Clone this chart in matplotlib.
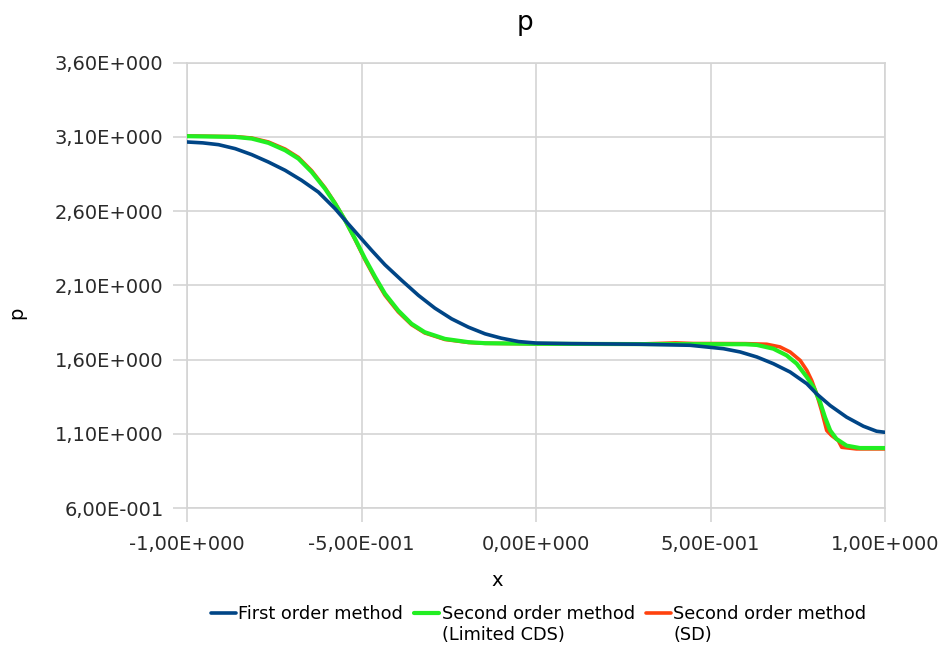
import numpy as np
import matplotlib
matplotlib.use("Agg")
import matplotlib.pyplot as plt
from matplotlib.ticker import FuncFormatter, FixedLocator

# first order solution
x_first = [-1.000, -0.955, -0.910, -0.862, -0.815, -0.767, -0.719, -0.672, -0.624, -0.576,
           -0.547, -0.509, -0.471, -0.433, -0.385, -0.337, -0.290, -0.242, -0.194,
           -0.146, -0.100, -0.050, 0.000, 0.100, 0.200, 0.298, 0.441, 0.537,
           0.585, 0.633, 0.680, 0.728, 0.776, 0.804, 0.843, 0.890, 0.938,
           0.976, 1.000]
p_first = [3.066, 3.060, 3.048, 3.021, 2.981, 2.931, 2.875, 2.808, 2.729, 2.617,
           2.538, 2.437, 2.336, 2.239, 2.134, 2.033, 1.947, 1.875, 1.819,
           1.774, 1.745, 1.722, 1.712, 1.708, 1.706, 1.704, 1.697, 1.674,
           1.652, 1.618, 1.573, 1.517, 1.438, 1.370, 1.291, 1.213, 1.152,
           1.118, 1.111]

# second order, limited central differences
x_cds = [-1.000, -0.862, -0.815, -0.767, -0.719, -0.681, -0.643, -0.605, -0.576,
         -0.547, -0.519, -0.490, -0.461, -0.433, -0.395, -0.357, -0.319, -0.261,
         -0.194, -0.146, 0.000, 0.300, 0.600, 0.633, 0.680, 0.718, 0.747,
         0.776, 0.795, 0.814, 0.828, 0.843, 0.861, 0.890, 0.928, 1.000]
p_cds = [3.105, 3.100, 3.089, 3.060, 3.010, 2.954, 2.864, 2.752, 2.651,
         2.538, 2.415, 2.280, 2.156, 2.044, 1.931, 1.842, 1.785, 1.740,
         1.718, 1.711, 1.707, 1.705, 1.704, 1.699, 1.674, 1.629, 1.573,
         1.483, 1.415, 1.314, 1.213, 1.123, 1.066, 1.021, 1.005, 1.005]

# second order, SD scheme
x_sd = [-1.000, -0.862, -0.815, -0.767, -0.719, -0.681, -0.643, -0.605, -0.576,
        -0.547, -0.519, -0.490, -0.461, -0.433, -0.395, -0.357, -0.319, -0.261,
        -0.194, -0.146, 0.000, 0.300, 0.360, 0.400, 0.450, 0.600, 0.661,
        0.699, 0.728, 0.757, 0.776, 0.790, 0.804, 0.818, 0.828, 0.833,
        0.847, 0.866, 0.876, 0.918, 1.000]
p_sd = [3.107, 3.102, 3.093, 3.066, 3.018, 2.962, 2.872, 2.758, 2.655,
        2.538, 2.410, 2.272, 2.146, 2.034, 1.922, 1.836, 1.780, 1.736,
        1.716, 1.710, 1.707, 1.706, 1.710, 1.713, 1.709, 1.708, 1.704,
        1.686, 1.652, 1.595, 1.528, 1.460, 1.370, 1.258, 1.168, 1.123,
        1.089, 1.055, 1.010, 0.999, 0.999]

labels = ["First order method", "Second order method\n(Limited CDS)",
          "Second order method\n(SD)"]
colors = ["#004586", "#22ee22", "#ff420e"]

yticks = [0.6, 1.1, 1.6, 2.1, 2.6, 3.1, 3.6]
xticks = [-1.0, -0.5, 0.0, 0.5, 1.0]


def sci_comma(v, pos):
    if abs(v) < 1e-12:
        return "0,00E+000"
    e = int(np.floor(np.log10(abs(v)) + 1e-9))
    m = v / 10 ** e
    sign = "+" if e >= 0 else "-"
    return f"{m:.2f}".replace(".", ",") + f"E{sign}{abs(e):03d}"


fig = plt.figure(figsize=(9.45, 6.49), dpi=100)
ax = fig.add_axes([0.198, 0.217, 0.7385, 0.6864])

gridcol = "#d4d4d4"
style = dict(solid_joinstyle="round", solid_capstyle="round")
l3, = ax.plot(x_sd, p_sd, color=colors[2], lw=2.6, zorder=3, **style)
l2, = ax.plot(x_cds, p_cds, color=colors[1], lw=3.0, zorder=4, **style)
l1, = ax.plot(x_first, p_first, color=colors[0], lw=2.6, zorder=5, **style)

ax.set_xlim(-1, 1)
ax.set_ylim(0.6, 3.6)
ax.xaxis.set_major_locator(FixedLocator(xticks))
ax.yaxis.set_major_locator(FixedLocator(yticks))
ax.xaxis.set_major_formatter(FuncFormatter(sci_comma))
ax.yaxis.set_major_formatter(FuncFormatter(sci_comma))
ax.grid(True, color=gridcol, lw=1.2)
ax.set_axisbelow(True)
for s in ax.spines.values():
    s.set_color(gridcol)
    s.set_linewidth(1.2)
ax.tick_params(colors=gridcol, labelcolor="#2a2a2a", length=10, width=1.2,
               labelsize=14, pad=7)
ax.tick_params(axis="x", pad=9)

fig.text(0.556, 0.965, "p", ha="center", va="center", fontsize=19)
fig.text(0.526, 0.106, "x", ha="center", va="center", fontsize=14)
fig.text(0.018, 0.518, "p", ha="center", va="center", fontsize=14, rotation=90)

leg = fig.legend([l1, l2, l3], labels, loc="upper center", ncol=3,
                 bbox_to_anchor=(0.570, 0.068), frameon=False, fontsize=12.8,
                 handlelength=1.4, handleheight=1.3, handletextpad=0.15,
                 columnspacing=0.62, borderaxespad=0, borderpad=0)
# line the columns up at the top and keep each marker level with the
# first line of its label
leg._legend_handle_box.align = "top"
for col in leg._legend_handle_box.get_children():
    col.align = "left"
    for item in col.get_children():
        item.align = "top"

fig.savefig("out.png", dpi=100)
